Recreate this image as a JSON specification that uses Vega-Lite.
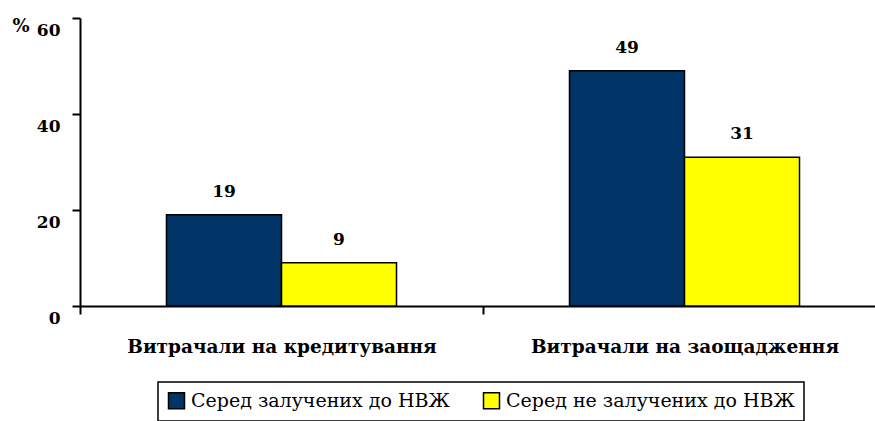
{
  "$schema": "https://vega.github.io/schema/vega-lite/v6.json",
  "autosize": "none",
  "width": 795,
  "height": 288,
  "padding": {"left": 80, "top": 18, "right": 0, "bottom": 115},
  "background": "white",
  "config": {
    "view": {"stroke": null},
    "font": "DejaVu Serif"
  },
  "data": {
    "values": [
      {"cat": "Витрачали на кредитування", "grp": "Серед залучених до НВЖ", "v": 19},
      {"cat": "Витрачали на кредитування", "grp": "Серед не залучених до НВЖ", "v": 9},
      {"cat": "Витрачали на заощадження", "grp": "Серед залучених до НВЖ", "v": 49},
      {"cat": "Витрачали на заощадження", "grp": "Серед не залучених до НВЖ", "v": 31}
    ]
  },
  "encoding": {
    "x": {
      "field": "cat", "type": "nominal", "sort": null,
      "scale": {"range": [0, 806], "paddingInner": 0, "paddingOuter": 0},
      "axis": {
        "title": null, "labelAngle": 0, "domainColor": "black", "domainWidth": 2,
        "tickColor": "black", "tickWidth": 2, "tickSize": 8, "tickBand": "extent",
        "labelFont": "DejaVu Serif", "labelFontWeight": "bold", "labelFontSize": 18.5,
        "labelColor": "black", "labelPadding": 38, "labelBaseline": "alphabetic", "labelLimit": 500
      }
    },
    "xOffset": {
      "field": "grp", "type": "nominal", "sort": null,
      "scale": {"paddingInner": 0, "paddingOuter": 0.752}
    },
    "y": {
      "field": "v", "type": "quantitative",
      "scale": {"domain": [0, 60], "nice": false},
      "axis": {
        "values": [0, 20, 40, 60], "grid": false, "title": "%",
        "titleAngle": 0, "titleX": -68, "titleY": 13, "titleFont": "DejaVu Serif",
        "titleFontWeight": "bold", "titleFontSize": 18, "titleColor": "black",
        "titleAlign": "left", "titleBaseline": "alphabetic",
        "domainColor": "black", "domainWidth": 2, "tickColor": "black", "tickWidth": 2,
        "tickSize": 8, "labelFont": "DejaVu Serif", "labelFontWeight": "bold",
        "labelFontSize": 17, "labelColor": "black", "labelPadding": 12,
        "labelBaseline": "alphabetic", "labelOffset": 17
      }
    }
  },
  "layer": [
    {
      "mark": {"type": "bar", "stroke": "black", "strokeWidth": 1.5},
      "encoding": {
        "color": {
          "field": "grp", "type": "nominal", "sort": null,
          "scale": {"range": ["#003366", "#FFFF00"]},
          "legend": {
            "title": null, "orient": "none", "legendX": 78, "legendY": 364,
            "direction": "horizontal", "strokeColor": "black",
            "padding": 9, "symbolType": "square", "symbolSize": 256,
            "symbolStrokeColor": "black", "symbolStrokeWidth": 1.5,
            "labelFont": "DejaVu Serif", "labelFontSize": 19, "labelColor": "black",
            "labelOffset": 5, "columnPadding": 30, "fillColor": "white",
            "labelLimit": 400,
            "encode": {"legend": {"update": {"strokeWidth": {"value": 1.5}}}}
          }
        }
      }
    },
    {
      "mark": {"type": "text", "dy": -18, "baseline": "alphabetic", "font": "DejaVu Serif", "fontWeight": "bold", "fontSize": 17, "color": "black"},
      "encoding": {"text": {"field": "v", "type": "quantitative"}}
    }
  ]
}
